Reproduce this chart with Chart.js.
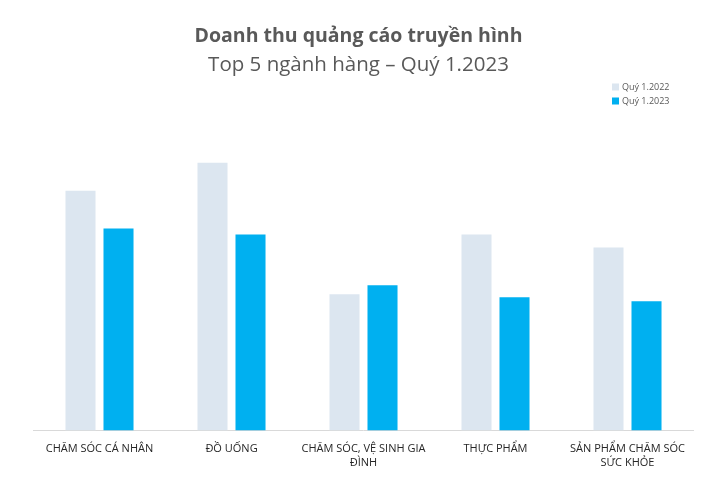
<!DOCTYPE html>
<html><head><meta charset="utf-8">
<script src="https://cdn.jsdelivr.net/npm/chart.js@4.4.0/dist/chart.umd.min.js"></script>
<style>html,body{margin:0;padding:0;background:#fff}#wrap{width:711px;height:491px}</style>
</head><body><div id="wrap"><canvas id="c" width="711" height="491"></canvas></div>
<script>
const categories = [
  ["CHĂM SÓC CÁ NHÂN"],
  ["ĐỒ UỐNG"],
  ["CHĂM SÓC, VỆ SINH GIA", "ĐÌNH"],
  ["THỰC PHẨM"],
  ["SẢN PHẨM CHĂM SÓC", "SỨC KHỎE"]
];
const seriesNames = ["Quý 1.2022", "Quý 1.2023"];
const values2022 = [241, 269, 137, 197, 184];
const values2023 = [203, 197, 146, 134, 130];
const colors = ["#dce6f0", "#00b0f0"];

const legendPlugin = {
  id: 'cornerLegend',
  afterDraw(chart) {
    const ctx = chart.ctx;
    ctx.save();
    ctx.font = '9px "Open Sans", sans-serif';
    ctx.textBaseline = 'middle';
    chart.data.datasets.forEach((ds, i) => {
      const y = 87 + i * 14;
      ctx.fillStyle = ds.backgroundColor;
      ctx.fillRect(612, y - 3.5, 7, 7);
      ctx.fillStyle = '#595959';
      ctx.fillText(ds.label, 622, y);
    });
    ctx.restore();
  }
};

new Chart(document.getElementById('c'), {
  type: 'bar',
  data: {
    labels: categories,
    datasets: [
      { label: seriesNames[0], data: values2022, backgroundColor: colors[0] },
      { label: seriesNames[1], data: values2023, backgroundColor: colors[1] }
    ]
  },
  options: {
    responsive: false,
    animation: false,
    devicePixelRatio: 1,
    layout: { padding: { left: 23.5, right: 17.5, top: 14, bottom: 18 } },
    datasets: { bar: { categoryPercentage: 0.576, barPercentage: 0.79 } },
    plugins: {
      legend: { display: false },
      tooltip: { enabled: false },
      title: {
        display: true,
        text: 'Doanh thu quảng cáo truyền hình',
        color: '#595959',
        font: { family: '"Open Sans", sans-serif', size: 19.5, weight: 'bold' },
        padding: { top: 11, bottom: 4 }
      },
      subtitle: {
        display: true,
        text: 'Top 5 ngành hàng – Quý 1.2023',
        color: '#595959',
        font: { family: '"Open Sans", sans-serif', size: 20.5, weight: 'normal' },
        padding: { top: 0, bottom: 55 }
      }
    },
    scales: {
      x: {
        grid: { display: false },
        border: { display: true, color: '#d9d9d9', width: 1 },
        ticks: {
          color: '#262626',
          font: { family: '"Open Sans", sans-serif', size: 11 },
          padding: 4,
          maxRotation: 0,
          autoSkip: false
        }
      },
      y: {
        display: true, min: 0, max: 300,
        grid: { display: false },
        border: { display: false },
        ticks: { display: false },
        afterFit(scale) { scale.width = 10; }
      }
    }
  },
  plugins: [legendPlugin]
});
</script></body></html>
